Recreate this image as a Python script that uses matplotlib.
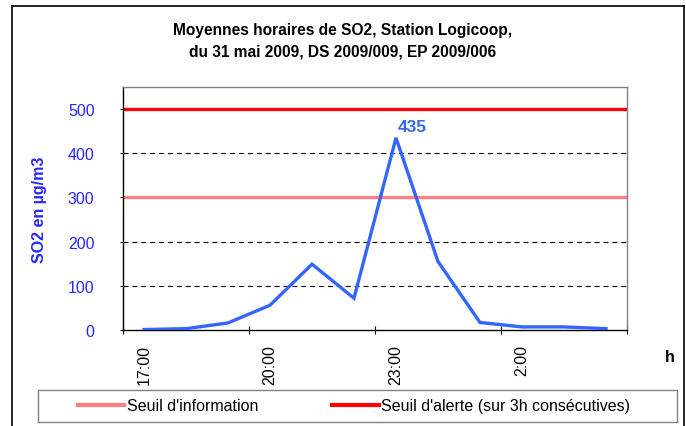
import matplotlib
matplotlib.use("Agg")
import matplotlib.pyplot as plt
from matplotlib.patches import Rectangle
from matplotlib.lines import Line2D

plt.rcParams['font.family'] = ['Liberation Sans', 'DejaVu Sans']

# Data
hours = ["17:00", "18:00", "19:00", "20:00", "21:00", "22:00", "23:00",
         "0:00", "1:00", "2:00", "3:00", "4:00"]
so2 = [1, 3, 16, 56, 149, 72, 435, 155, 17, 7, 7, 3]
seuil_info = 300
seuil_alerte = 500
yticks = [0, 100, 200, 300, 400, 500]
peak_label = "435"

W, H = 686, 427
fig = plt.figure(figsize=(W / 100, H / 100), dpi=100)

# outer chart border
bx0, bx1, by0 = 12, 684, 7
fig.lines.append(Line2D([bx0 / W, bx1 / W], [1 - by0 / H, 1 - by0 / H],
                        transform=fig.transFigure, color='black', linewidth=1.2))
fig.lines.append(Line2D([bx0 / W, bx0 / W], [1 - by0 / H, 0],
                        transform=fig.transFigure, color='black', linewidth=1.2))
fig.lines.append(Line2D([bx1 / W, bx1 / W], [1 - by0 / H, 0],
                        transform=fig.transFigure, color='black', linewidth=1.2))

left, right, top, bottom = 123, 627, 88, 331
ax = fig.add_axes([left / W, 1 - bottom / H, (right - left) / W, (bottom - top) / H])

x = list(range(len(hours)))
ax.set_xlim(-0.5, len(hours) - 0.5)
ax.set_ylim(0, 550)

# gridlines
for v in yticks[1:]:
    ax.axhline(v, color='black', linestyle=(0, (4.5, 3.5)), linewidth=0.8, zorder=1)

ax.axhline(seuil_info, color='#FF8080', linewidth=2.4, zorder=2)
ax.axhline(seuil_alerte, color='#FF0000', linewidth=2.4, zorder=2)
ax.plot(x, so2, color='#3366FF', linewidth=2.4, zorder=3, solid_joinstyle='miter')

ipk = so2.index(max(so2))
ax.annotate(peak_label, (x[ipk], so2[ipk]), xytext=(1.5, 3), textcoords='offset points',
            color='#3366FF', fontweight='bold', fontsize=12.5, ha='left', va='bottom')

# spines
ax.spines['left'].set_color('black')
ax.spines['bottom'].set_color('black')
ax.spines['top'].set_color('#808080')
ax.spines['right'].set_color('#808080')
for s in ax.spines.values():
    s.set_linewidth(1.0)

ax.set_yticks(yticks)
ax.set_yticklabels([str(v) for v in yticks])
ax.tick_params(axis='y', direction='inout', length=5, width=0.8, colors='black',
               labelcolor='#2626FF', labelsize=11.5, pad=18)

ax.set_xticks(x[::3])
ax.set_xticklabels(hours[::3], rotation=90)
ax.set_xticks([i - 0.5 for i in range(0, len(hours) + 1, 3)], minor=True)
ax.tick_params(axis='x', which='major', length=0, labelsize=11.5, pad=10)
ax.tick_params(axis='x', which='minor', direction='inout', length=6, width=0.8)

ax.set_ylabel("SO2 en µg/m3", color='#2626FF', fontweight='bold', fontsize=11.5)
ax.yaxis.set_label_coords((47 - left) / (right - left), 0.5)

fig.text(343 / W, 1 - 41.5 / H, "Moyennes horaires de SO2, Station Logicoop,\ndu 31 mai 2009, DS 2009/009, EP 2009/006",
         ha='center', va='center', fontweight='bold', fontsize=11.2, linespacing=1.5)

fig.text(670 / W, 1 - 358 / H, "h", ha='center', va='center', fontweight='bold', fontsize=11.5)

# legend frame
fig.patches.append(Rectangle((38 / W, 1 - 423 / H), (677 - 38) / W, 32 / H,
                             transform=fig.transFigure, fill=False,
                             edgecolor='#808080', linewidth=1.0))
handles = [Line2D([], [], color='#FF8080', linewidth=3),
           Line2D([], [], color='#FF0000', linewidth=3)]
fig.legend(handles, ["Seuil d'information", "Seuil d'alerte (sur 3h consécutives)"],
           loc='center', bbox_to_anchor=(354 / W, 1 - 407 / H), ncol=2, frameon=False,
           fontsize=11.5, handlelength=2.9, handletextpad=0.15, columnspacing=4.65)

fig.savefig("out.png", dpi=100)
